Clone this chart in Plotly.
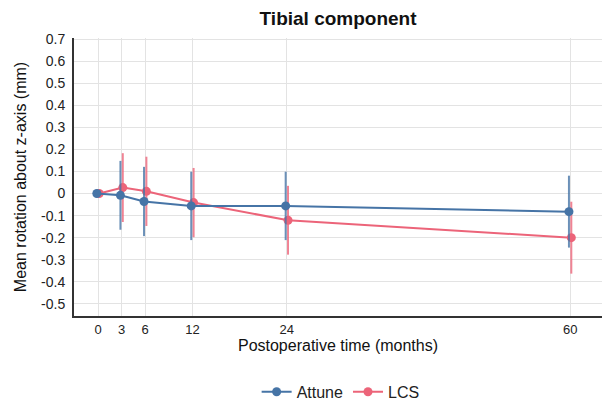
import plotly.graph_objects as go

months = [0, 3, 6, 12, 24, 60]
x_ticks = [0, 3, 6, 12, 24, 60]
y_ticks = [0.7, 0.6, 0.5, 0.4, 0.3, 0.2, 0.1, 0, -0.1, -0.2, -0.3, -0.4, -0.5]
y_tick_text = ["0.7", "0.6", "0.5", "0.4", "0.3", "0.2", "0.1", "0", "-0.1", "-0.2", "-0.3", "-0.4", "-0.5"]

attune_mean = [0.0, -0.008, -0.036, -0.056, -0.056, -0.082]
attune_err = [0.0, 0.156, 0.157, 0.155, 0.155, 0.163]
lcs_mean = [0.0, 0.027, 0.010, -0.041, -0.121, -0.200]
lcs_err = [0.0, 0.156, 0.157, 0.157, 0.156, 0.163]

dodge = 0.15
font = "Liberation Sans, Arial, sans-serif"

fig = go.Figure()
series = [
    ("LCS", lcs_mean, lcs_err, "#ec6479", "rgba(236,100,121,0.8)", +dodge),
    ("Attune", attune_mean, attune_err, "#4674a6", "rgba(70,116,166,0.8)", -dodge),
]
for name, mean, err, col, ecol, dx in series:
    fig.add_trace(go.Scatter(
        x=[m + dx for m in months], y=mean, name=name, mode="lines+markers",
        line=dict(color=col, width=2), marker=dict(color=col, size=9),
        error_y=dict(type="data", array=err, visible=True, thickness=2, width=0, color=ecol),
    ))

fig.update_layout(
    width=612, height=402,
    margin=dict(l=74, r=10, t=38, b=86, autoexpand=False),
    paper_bgcolor="white", plot_bgcolor="white",
    font=dict(family=font, size=13, color="#222"),
    title=dict(text="<b>Tibial component</b>", x=0.5524, xanchor="center", y=0.955, yanchor="middle",
               font=dict(size=19, color="#111")),
    showlegend=True,
    legend=dict(orientation="h", x=0.505, xanchor="center", y=-0.273, yanchor="middle",
                font=dict(size=16, color="#222"), traceorder="reversed", itemwidth=30),
    xaxis=dict(range=[-3.05, 64.05], tickvals=x_ticks, ticktext=[str(v) for v in x_ticks],
               showgrid=True, gridcolor="#e3e3e3", gridwidth=1, zeroline=False,
               showline=True, linecolor="#333", linewidth=2, ticks="",
               tickfont=dict(size=13, color="#222"), automargin=False,
               title=dict(text="Postoperative time (months)", font=dict(size=16, color="#111"), standoff=2)),
    yaxis=dict(range=[-0.555, 0.705], tickvals=y_ticks, ticktext=y_tick_text,
               showgrid=True, gridcolor="#e3e3e3", gridwidth=1, zeroline=False,
               showline=True, linecolor="#333", linewidth=2, ticks="", ticklabelstandoff=4,
               tickfont=dict(size=14, color="#222"), automargin=False,
               title=dict(text="Mean rotation about z-axis (mm)", font=dict(size=16, color="#111"), standoff=10)),
)

fig.write_html("out.html")
